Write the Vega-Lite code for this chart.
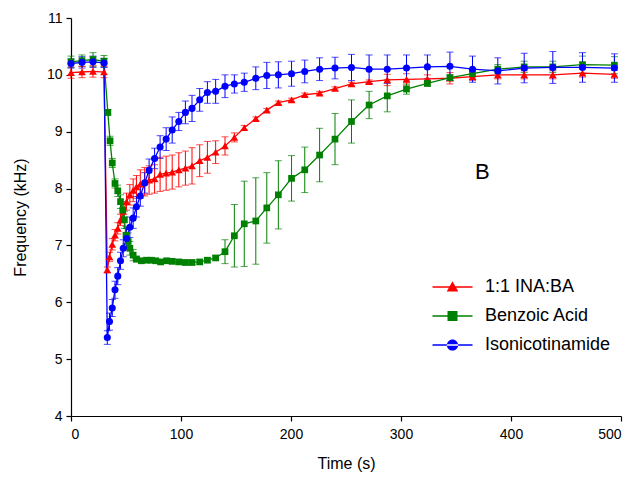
{
"$schema": "https://vega.github.io/schema/vega-lite/v6.json",
"width": 550, "height": 398,
"autosize": {"type": "none"},
"padding": {"left": 71, "top": 18, "right": 14, "bottom": 67},
"config": {
  "view": {"stroke": null},
  "axis": {"grid": false, "domainColor": "#000", "tickColor": "#000", "labelColor": "#000", "titleColor": "#000", "labelFont": "Liberation Sans", "titleFont": "Liberation Sans", "labelFontSize": 14, "titleFontSize": 16, "titleFontWeight": "normal", "tickSize": 5, "domainWidth": 1.2, "tickWidth": 1.2},
  "legend": {"labelFont": "Liberation Sans", "labelColor": "#000"}
},
"data": {"values": [
{"s":"1:1 INA:BA","t":0,"f":10.04,"e":0.1},{"s":"1:1 INA:BA","t":10,"f":10.05,"e":0.1},{"s":"1:1 INA:BA","t":20,"f":10.06,"e":0.1},{"s":"1:1 INA:BA","t":30,"f":10.05,"e":0.1},
{"s":"1:1 INA:BA","t":33,"f":6.57,"e":0.05},{"s":"1:1 INA:BA","t":35,"f":6.80,"e":0.08},{"s":"1:1 INA:BA","t":37.5,"f":7.02,"e":0.1},{"s":"1:1 INA:BA","t":40,"f":7.18,"e":0.1},{"s":"1:1 INA:BA","t":42.5,"f":7.30,"e":0.1},{"s":"1:1 INA:BA","t":45,"f":7.45,"e":0.1},{"s":"1:1 INA:BA","t":47.5,"f":7.60,"e":0.12},{"s":"1:1 INA:BA","t":50.5,"f":7.77,"e":0.15},{"s":"1:1 INA:BA","t":53.5,"f":7.89,"e":0.18},{"s":"1:1 INA:BA","t":56.5,"f":7.97,"e":0.2},{"s":"1:1 INA:BA","t":59.5,"f":8.03,"e":0.2},{"s":"1:1 INA:BA","t":63,"f":8.08,"e":0.25},{"s":"1:1 INA:BA","t":67,"f":8.12,"e":0.25},{"s":"1:1 INA:BA","t":71,"f":8.15,"e":0.25},{"s":"1:1 INA:BA","t":76,"f":8.17,"e":0.25},
{"s":"1:1 INA:BA","t":81,"f":8.25,"e":0.3},{"s":"1:1 INA:BA","t":86.5,"f":8.27,"e":0.3},{"s":"1:1 INA:BA","t":92,"f":8.29,"e":0.3},{"s":"1:1 INA:BA","t":98,"f":8.33,"e":0.3},{"s":"1:1 INA:BA","t":104,"f":8.36,"e":0.3},{"s":"1:1 INA:BA","t":110,"f":8.40,"e":0.32},{"s":"1:1 INA:BA","t":117,"f":8.49,"e":0.28},{"s":"1:1 INA:BA","t":124,"f":8.55,"e":0.28},{"s":"1:1 INA:BA","t":131.5,"f":8.64,"e":0.2},{"s":"1:1 INA:BA","t":140,"f":8.75,"e":0.16},{"s":"1:1 INA:BA","t":148.5,"f":8.90,"e":0.08},{"s":"1:1 INA:BA","t":157.5,"f":9.07,"e":0.04},{"s":"1:1 INA:BA","t":168,"f":9.23,"e":0.03},{"s":"1:1 INA:BA","t":178,"f":9.38,"e":0.03},{"s":"1:1 INA:BA","t":188.5,"f":9.51,"e":0.03},
{"s":"1:1 INA:BA","t":200.5,"f":9.56,"e":0.03},{"s":"1:1 INA:BA","t":212.5,"f":9.65,"e":0.03},{"s":"1:1 INA:BA","t":226,"f":9.68,"e":0.03},{"s":"1:1 INA:BA","t":240,"f":9.76,"e":0.03},{"s":"1:1 INA:BA","t":255,"f":9.84,"e":0.03},{"s":"1:1 INA:BA","t":271,"f":9.88,"e":0.03},{"s":"1:1 INA:BA","t":287.5,"f":9.91,"e":0.1},{"s":"1:1 INA:BA","t":305,"f":9.92,"e":0.1},{"s":"1:1 INA:BA","t":324,"f":9.93,"e":0.07},{"s":"1:1 INA:BA","t":344.5,"f":9.94,"e":0.1},
{"s":"1:1 INA:BA","t":365,"f":9.97,"e":0.07},{"s":"1:1 INA:BA","t":388,"f":10.00,"e":0.07},{"s":"1:1 INA:BA","t":412,"f":10.00,"e":0.07},{"s":"1:1 INA:BA","t":438,"f":10.00,"e":0.07},{"s":"1:1 INA:BA","t":465,"f":10.03,"e":0.07},{"s":"1:1 INA:BA","t":494,"f":10.01,"e":0.07},

{"s":"Benzoic Acid","t":0,"f":10.23,"e":0.1},{"s":"Benzoic Acid","t":10,"f":10.25,"e":0.1},{"s":"Benzoic Acid","t":20,"f":10.27,"e":0.12},{"s":"Benzoic Acid","t":30,"f":10.24,"e":0.1},{"s":"Benzoic Acid","t":33.5,"f":9.34,"e":0.05},{"s":"Benzoic Acid","t":35.5,"f":8.84,"e":0.08},{"s":"Benzoic Acid","t":37.5,"f":8.45,"e":0.08},{"s":"Benzoic Acid","t":40,"f":8.09,"e":0.08},{"s":"Benzoic Acid","t":42.5,"f":7.96,"e":0.1},{"s":"Benzoic Acid","t":45,"f":7.77,"e":0.12},{"s":"Benzoic Acid","t":47,"f":7.62,"e":0.15},{"s":"Benzoic Acid","t":48.5,"f":7.45,"e":0.15},{"s":"Benzoic Acid","t":50,"f":7.18,"e":0.15},{"s":"Benzoic Acid","t":52,"f":7.07,"e":0.15},{"s":"Benzoic Acid","t":53.5,"f":6.95,"e":0.12},{"s":"Benzoic Acid","t":56.5,"f":6.83,"e":0.1},{"s":"Benzoic Acid","t":59.5,"f":6.76,"e":0.05},{"s":"Benzoic Acid","t":64,"f":6.73,"e":0.04},{"s":"Benzoic Acid","t":68.5,"f":6.74,"e":0.04},{"s":"Benzoic Acid","t":73,"f":6.74,"e":0.04},{"s":"Benzoic Acid","t":77,"f":6.73,"e":0.04},{"s":"Benzoic Acid","t":81.5,"f":6.71,"e":0.04},{"s":"Benzoic Acid","t":87,"f":6.73,"e":0.04},{"s":"Benzoic Acid","t":92,"f":6.72,"e":0.04},{"s":"Benzoic Acid","t":98,"f":6.71,"e":0.04},{"s":"Benzoic Acid","t":104,"f":6.70,"e":0.04},{"s":"Benzoic Acid","t":110,"f":6.70,"e":0.04},{"s":"Benzoic Acid","t":117,"f":6.71,"e":0.04},{"s":"Benzoic Acid","t":124,"f":6.74,"e":0.04},{"s":"Benzoic Acid","t":131.5,"f":6.78,"e":0.04},{"s":"Benzoic Acid","t":140,"f":6.89,"e":0.21},{"s":"Benzoic Acid","t":148.5,"f":7.17,"e":0.55},{"s":"Benzoic Acid","t":157.5,"f":7.38,"e":0.75},{"s":"Benzoic Acid","t":168,"f":7.43,"e":0.76},{"s":"Benzoic Acid","t":178,"f":7.66,"e":0.62},{"s":"Benzoic Acid","t":188.5,"f":7.89,"e":0.6},{"s":"Benzoic Acid","t":200.5,"f":8.18,"e":0.4},{"s":"Benzoic Acid","t":212.5,"f":8.33,"e":0.4},{"s":"Benzoic Acid","t":226,"f":8.59,"e":0.47},{"s":"Benzoic Acid","t":240,"f":8.87,"e":0.45},{"s":"Benzoic Acid","t":255,"f":9.18,"e":0.38},{"s":"Benzoic Acid","t":271,"f":9.47,"e":0.24},{"s":"Benzoic Acid","t":287.5,"f":9.63,"e":0.28},{"s":"Benzoic Acid","t":305,"f":9.75,"e":0.09},{"s":"Benzoic Acid","t":324,"f":9.85,"e":0.05},{"s":"Benzoic Acid","t":344.5,"f":9.95,"e":0.05},{"s":"Benzoic Acid","t":365,"f":10.02,"e":0.06},{"s":"Benzoic Acid","t":388,"f":10.10,"e":0.08},{"s":"Benzoic Acid","t":412,"f":10.14,"e":0.1},{"s":"Benzoic Acid","t":438,"f":10.14,"e":0.1},{"s":"Benzoic Acid","t":465,"f":10.18,"e":0.15},{"s":"Benzoic Acid","t":494,"f":10.17,"e":0.15},

{"s":"Isonicotinamide","t":0,"f":10.20,"e":0.08},{"s":"Isonicotinamide","t":10,"f":10.22,"e":0.1},{"s":"Isonicotinamide","t":20,"f":10.23,"e":0.1},{"s":"Isonicotinamide","t":30,"f":10.21,"e":0.08},
{"s":"Isonicotinamide","t":33,"f":5.38,"e":0.12},{"s":"Isonicotinamide","t":35,"f":5.66,"e":0.15},{"s":"Isonicotinamide","t":37.5,"f":5.90,"e":0.15},{"s":"Isonicotinamide","t":40,"f":6.22,"e":0.15},{"s":"Isonicotinamide","t":42.5,"f":6.46,"e":0.15},{"s":"Isonicotinamide","t":45,"f":6.73,"e":0.15},{"s":"Isonicotinamide","t":47.5,"f":6.95,"e":0.15},{"s":"Isonicotinamide","t":50.5,"f":7.12,"e":0.18},{"s":"Isonicotinamide","t":53.5,"f":7.32,"e":0.18},{"s":"Isonicotinamide","t":56.5,"f":7.48,"e":0.18},{"s":"Isonicotinamide","t":59.5,"f":7.68,"e":0.18},{"s":"Isonicotinamide","t":63,"f":7.87,"e":0.18},{"s":"Isonicotinamide","t":67,"f":8.10,"e":0.18},{"s":"Isonicotinamide","t":71,"f":8.32,"e":0.2},{"s":"Isonicotinamide","t":76,"f":8.53,"e":0.18},
{"s":"Isonicotinamide","t":81,"f":8.73,"e":0.2},{"s":"Isonicotinamide","t":86.5,"f":8.87,"e":0.2},{"s":"Isonicotinamide","t":92,"f":9.03,"e":0.23},{"s":"Isonicotinamide","t":98,"f":9.18,"e":0.16},{"s":"Isonicotinamide","t":104,"f":9.34,"e":0.2},{"s":"Isonicotinamide","t":110,"f":9.41,"e":0.23},{"s":"Isonicotinamide","t":117,"f":9.56,"e":0.2},{"s":"Isonicotinamide","t":124,"f":9.69,"e":0.19},{"s":"Isonicotinamide","t":131.5,"f":9.71,"e":0.21},{"s":"Isonicotinamide","t":140,"f":9.80,"e":0.2},{"s":"Isonicotinamide","t":148.5,"f":9.84,"e":0.16},{"s":"Isonicotinamide","t":157.5,"f":9.87,"e":0.16},{"s":"Isonicotinamide","t":168,"f":9.94,"e":0.2},{"s":"Isonicotinamide","t":178,"f":9.99,"e":0.23},{"s":"Isonicotinamide","t":188.5,"f":10.00,"e":0.23},
{"s":"Isonicotinamide","t":200.5,"f":10.02,"e":0.22},{"s":"Isonicotinamide","t":212.5,"f":10.06,"e":0.2},{"s":"Isonicotinamide","t":226,"f":10.10,"e":0.2},{"s":"Isonicotinamide","t":240,"f":10.12,"e":0.19},{"s":"Isonicotinamide","t":255,"f":10.13,"e":0.23},{"s":"Isonicotinamide","t":271,"f":10.10,"e":0.25},{"s":"Isonicotinamide","t":287.5,"f":10.10,"e":0.25},{"s":"Isonicotinamide","t":305,"f":10.12,"e":0.23},{"s":"Isonicotinamide","t":324,"f":10.14,"e":0.21},{"s":"Isonicotinamide","t":344.5,"f":10.15,"e":0.25},
{"s":"Isonicotinamide","t":365,"f":10.10,"e":0.23},{"s":"Isonicotinamide","t":388,"f":10.07,"e":0.23},{"s":"Isonicotinamide","t":412,"f":10.12,"e":0.26},{"s":"Isonicotinamide","t":438,"f":10.13,"e":0.28},{"s":"Isonicotinamide","t":465,"f":10.13,"e":0.26},{"s":"Isonicotinamide","t":494,"f":10.12,"e":0.25}
]},
"encoding": {
  "x": {"field": "t", "type": "quantitative", "scale": {"domain": [0, 500], "nice": false}, "axis": {"values": [0,100,200,300,400,500], "title": "Time (s)", "labelPadding": 6, "titlePadding": 14}},
  "y": {"field": "f", "type": "quantitative", "scale": {"domain": [4, 11], "nice": false, "zero": false}, "axis": {"values": [4,5,6,7,8,9,10,11], "title": "Frequency (kHz)", "labelPadding": 4, "titlePadding": 18}}
},
"layer": [
  {"mark": {"type": "point", "filled": true, "opacity": 0},
   "encoding": {
     "color": {"field": "s", "type": "nominal", "scale": {"domain": ["1:1 INA:BA","Benzoic Acid","Isonicotinamide"], "range": ["#FF0000","#008000","#0000FF"]}, "legend": {"title": null, "orient": "none", "legendX": 361.5, "legendY": 249, "symbolSize": 1600, "symbolOpacity": 1, "symbolStrokeWidth": 0, "labelFontSize": 18, "labelOffset": 12.5, "rowPadding": -10, "padding": 0}},
     "shape": {"field": "s", "type": "nominal", "scale": {"domain": ["1:1 INA:BA","Benzoic Acid","Isonicotinamide"], "range": ["M-1,-0.035H1V0.035H-1ZM0,-0.29L0.29,0.22H-0.29Z", "M-1,-0.035H1V0.035H-1ZM-0.25,-0.25H0.25V0.25H-0.25Z", "M-1,-0.035H1V0.035H-1ZM-0.28,0A0.28,0.28,0,1,0,0.28,0A0.28,0.28,0,1,0,-0.28,0Z"]}, "legend": {"title": null, "orient": "none", "legendX": 361.5, "legendY": 249, "symbolSize": 1600, "symbolOpacity": 1, "symbolStrokeWidth": 0, "labelFontSize": 18, "labelOffset": 12.5, "rowPadding": -10, "padding": 0}}
   }},
  {"mark": {"type": "errorbar", "ticks": {"size": 7}, "rule": {"strokeWidth": 1}},
   "encoding": {"yError": {"field": "e"}, "color": {"field": "s", "type": "nominal", "legend": null}}},
  {"mark": {"type": "line", "strokeWidth": 1.3},
   "encoding": {"color": {"field": "s", "type": "nominal", "legend": null}}},
  {"transform": [{"filter": "datum.s === '1:1 INA:BA'"}],
   "mark": {"type": "point", "filled": true, "opacity": 1, "shape": "triangle-up", "size": 60},
   "encoding": {"color": {"field": "s", "type": "nominal", "legend": null}}},
  {"transform": [{"filter": "datum.s === 'Benzoic Acid'"}],
   "mark": {"type": "point", "filled": true, "opacity": 1, "shape": "square", "size": 45},
   "encoding": {"color": {"field": "s", "type": "nominal", "legend": null}}},
  {"transform": [{"filter": "datum.s === 'Isonicotinamide'"}],
   "mark": {"type": "point", "filled": true, "opacity": 1, "shape": "circle", "size": 50},
   "encoding": {"color": {"field": "s", "type": "nominal", "legend": null}}},
  {"data": {"values": [{"label": "B", "t": 374, "f": 8.3}]},
   "mark": {"type": "text", "fontSize": 22, "font": "Liberation Sans", "color": "#000"},
   "encoding": {"text": {"field": "label"}}}
]
}
